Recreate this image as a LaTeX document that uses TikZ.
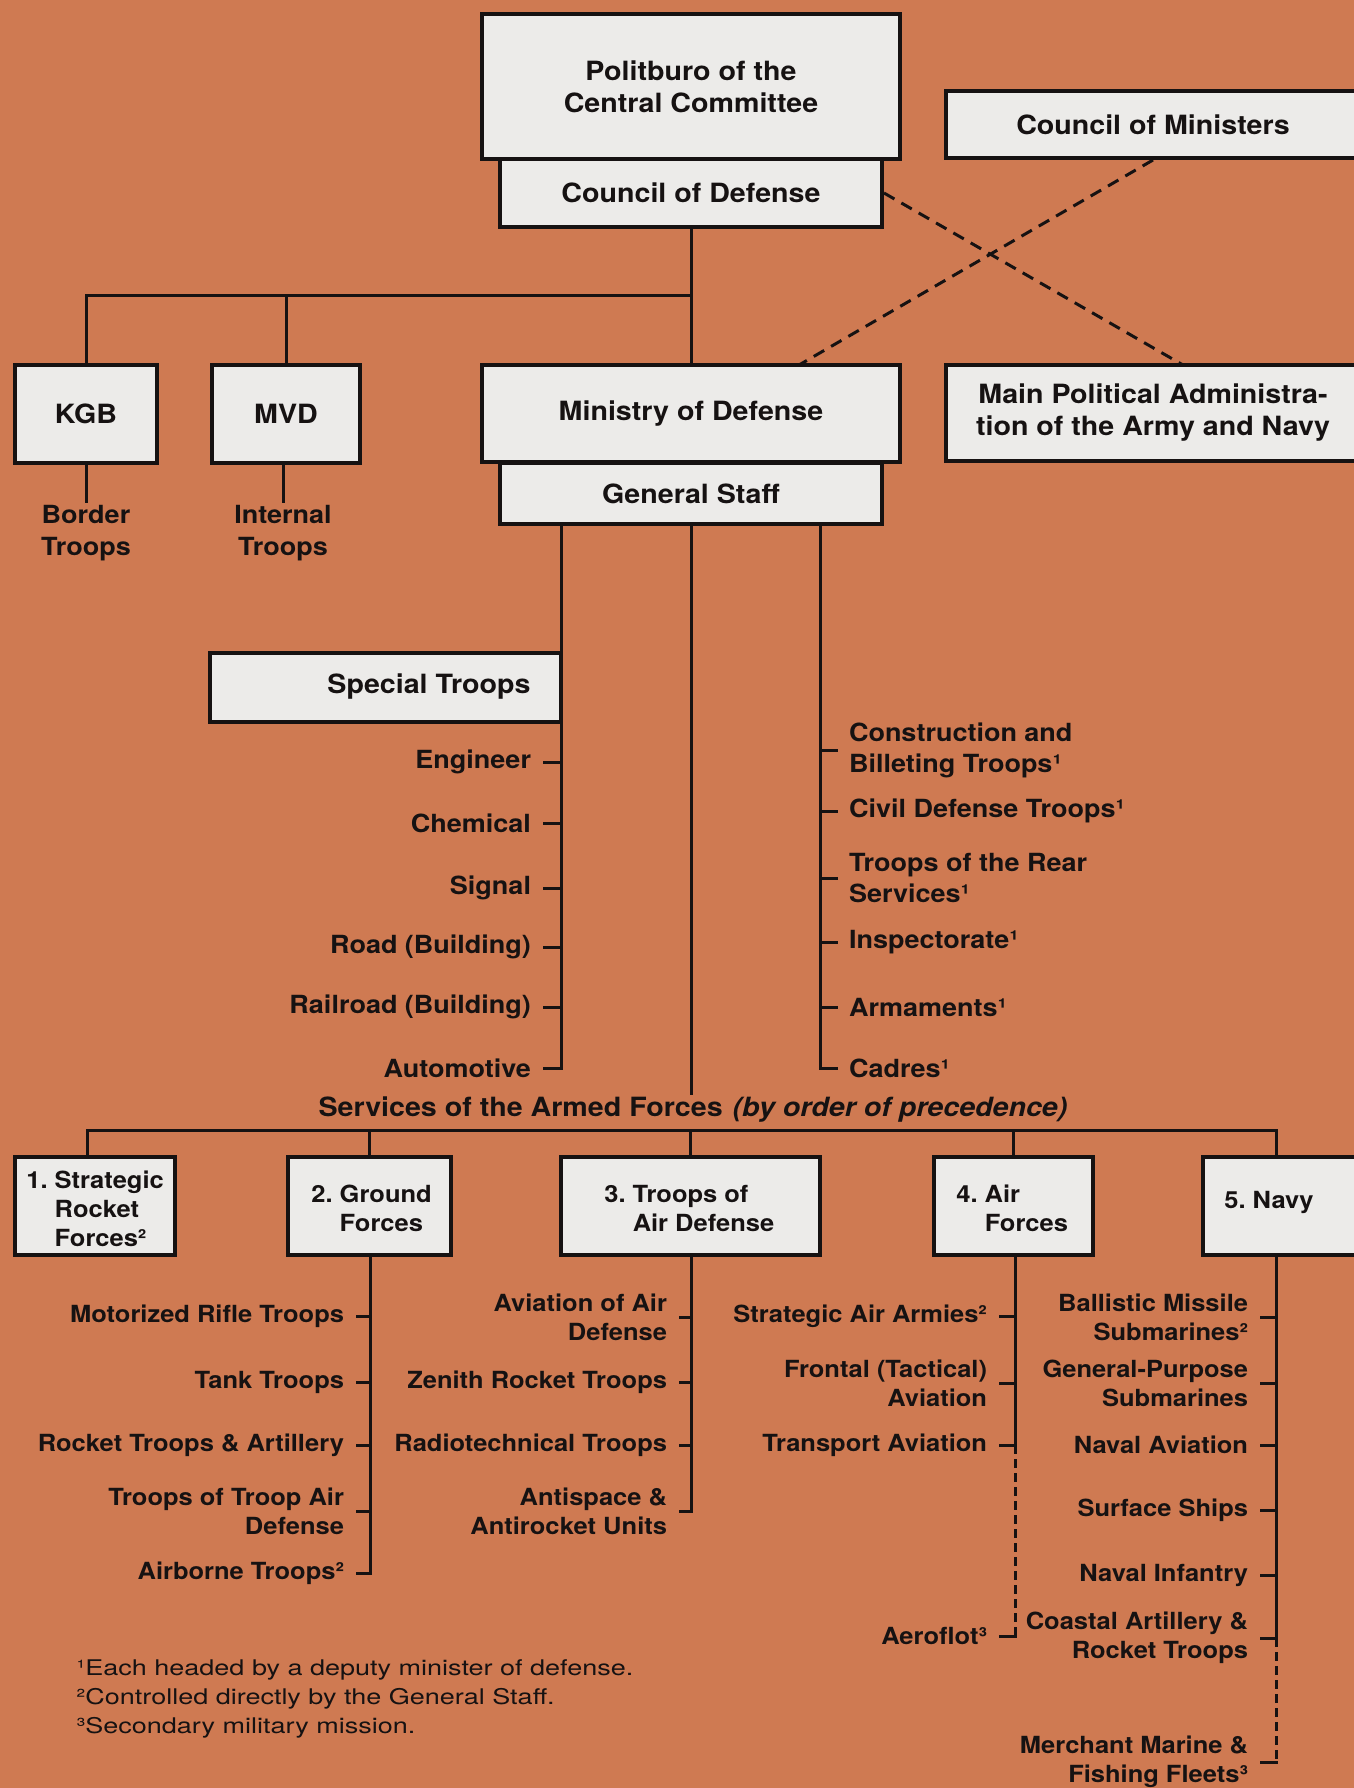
\documentclass[tikz,border=0pt]{standalone}
\usepackage{fontspec}
\setmainfont{TeX Gyre Heros}[FakeStretch=1.08]
\newfontfamily\footfont{TeX Gyre Heros}[FakeStretch=1.25]
\definecolor{bg}{RGB}{207,122,82}
\definecolor{boxfill}{RGB}{236,235,233}
\definecolor{ink}{RGB}{22,18,18}
\newcommand\tk[6]{%
  \coordinate (t#2) at (#3,#4);
  \node[#1] (#2) at (#5,#4) {#6};
  \draw[conn] (t#2) -- (#2);}
\tikzset{
  box/.style={draw=ink, line width=2pt, fill=boxfill, inner sep=0pt},
  conn/.style={draw=ink, line width=1.5pt, line cap=rect},
  dsh/.style={draw=ink, line width=1.5pt, dash pattern=on 4.5pt off 2.5pt},
  diag/.style={draw=ink, line width=1.5pt, dash pattern=on 6pt off 4pt},
  mainf/.style={font=\fontsize{13.25pt}{16pt}\selectfont\bfseries},
  upf/.style={font=\fontsize{12.5pt}{15.5pt}\selectfont\bfseries},
  lof/.style={font=\fontsize{11.8pt}{14.5pt}\selectfont\bfseries},
  footf/.style={font=\footfont\fontsize{10.8pt}{14.5pt}\selectfont},
  labL/.style={anchor=east, align=right, inner sep=0pt, outer xsep=6.5pt, outer ysep=0pt},
  labR/.style={anchor=west, align=left, inner sep=0pt, outer xsep=6.5pt, outer ysep=0pt},
  txt/.style={inner sep=0pt}
}
\begin{document}
\begin{tikzpicture}[x=0.5pt,y=-0.5pt, every node/.append style={text=ink}]
\useasboundingbox (0,0) rectangle (1354,1788);
\fill[bg] (0,0) rectangle (1354,1788);
\clip (0,0) rectangle (1354,1788);

% ---------- top level ----------
\node[box, mainf, align=center, minimum width=209pt, minimum height=72.5pt] (pol) at (691,86.5) {Politburo of the\\Central Committee};
\node[box, mainf, minimum width=191pt, minimum height=34pt] (cod) at (691,193) {Council of Defense};
\node[box, mainf, minimum width=207pt, minimum height=33.5pt] (com) at (1153,124.5) {Council of Ministers};

\node[box, mainf, minimum width=71pt, minimum height=49pt] (kgb) at (86,414) {KGB};
\node[box, mainf, minimum width=74pt, minimum height=49pt] (mvd) at (286,414) {MVD};
\node[box, mainf, minimum width=209pt, minimum height=48.5pt] (mod) at (691,413.5) {Ministry of Defense};
\node[box, mainf, minimum width=191pt, minimum height=30.5pt] (gs) at (691,493.5) {General Staff};
\node[box, mainf, align=center, minimum width=207pt, minimum height=48pt] (mpa) at (1153,413) {Main Political Administra-\\tion of the Army and Navy};

\node[txt, upf, align=center, font=\fontsize{12.5pt}{16pt}\selectfont\bfseries, outer ysep=2pt] (bord) at (86,533) {Border\\Troops};
\node[txt, upf, align=center, font=\fontsize{12.5pt}{16pt}\selectfont\bfseries, outer ysep=2pt] (intt) at (283,533) {Internal\\Troops};

% connectors top
\coordinate (jn) at (691,295);
\draw[conn] (cod.south) -- (mod.north);
\draw[conn] (jn) -| (kgb.north);
\draw[conn] (mvd.north |- jn) -- (mvd.north);
\draw[conn] (kgb.south) -- (bord.north);
\draw[conn] (mvd.south -| intt.north) -- (intt.north);
\coordinate (mpain) at (1183,365);
\coordinate (modin) at (799,365);
\draw[diag] (cod.east) -- (mpain);
\draw[diag] (com.south) -- (modin);

% ---------- special troops (left list) ----------
\tk{labL,upf}{eng}{561}{762}{544}{Engineer}
\tk{labL,upf}{chem}{561}{823}{544}{Chemical}
\tk{labL,upf}{sig}{561}{888}{544}{Signal}
\tk{labL,upf}{road}{561}{947}{544}{Road (Building)}
\tk{labL,upf}{rail}{561}{1007}{544}{Railroad (Building)}
\tk{labL,upf}{auto}{561}{1068}{544}{Automotive}
\draw[conn] (gs.south -| tauto) -- (tauto);
\node[box, minimum width=175.5pt, minimum height=34.5pt] (spbox) at (385.5,687.5) {};
\node[txt, mainf, anchor=east] (spt) at (531,687) {Special Troops};

% ---------- right list ----------
\tk{labR,upf}{cons}{820}{750}{836}{Construction and\\Billeting Troops¹}
\tk{labR,upf}{civ}{820}{811}{836}{Civil Defense Troops¹}
\tk{labR,upf}{rear}{820}{878}{836}{Troops of the Rear\\Services¹}
\tk{labR,upf}{insp}{820}{942}{836}{Inspectorate¹}
\tk{labR,upf}{arm}{820}{1007}{836}{Armaments¹}
\tk{labR,upf}{cad}{820}{1068}{836}{Cadres¹}
\draw[conn] (gs.south -| tcad) -- (tcad);

% ---------- center / services ----------
\coordinate (cend) at (691,1093);
\draw[conn] (gs.south) -- (cend);
\node[txt, mainf] (serv) at (693,1110) {Services of the Armed Forces\hspace{5pt}\textit{(by order of precedence)}};

\node[box, minimum width=80pt, minimum height=49pt] (b1) at (95,1206) {};
\node[box, minimum width=81.5pt, minimum height=49pt] (b2) at (369.5,1206) {};
\node[box, minimum width=129.5pt, minimum height=49pt] (b3) at (690.5,1206) {};
\node[box, minimum width=79.5pt, minimum height=49pt] (b4) at (1013.5,1206) {};
\node[box, minimum width=88.5pt, minimum height=49pt] (b5) at (1291.5,1206) {};

\node[txt, lof, anchor=west, align=left] (b1t) at (26,1209) {1.\ Strategic\\\hphantom{1.\ }Rocket\\\hphantom{1.\ }Forces²};
\node[txt, lof, anchor=west, align=left] (b2t) at (311,1208) {2.\ Ground\\\hphantom{2.\ }Forces};
\node[txt, lof, anchor=west, align=left] (b3t) at (604,1208) {3.\ Troops of\\\hphantom{3.\ }Air Defense};
\node[txt, lof, anchor=west, align=left] (b4t) at (956,1208) {4.\ Air\\\hphantom{4.\ }Forces};
\node[txt, lof, anchor=west, align=left] (b5t) at (1224,1202) {5.\ Navy};

\coordinate (busL) at (87,1130);
\coordinate (busR) at (1276,1130);
\draw[conn] (busL) -- (busR);
\draw[conn] (busL) -- (busL |- b1.north);
\draw[conn] (b2.north |- busL) -- (b2.north);
\draw[conn] (b3.north |- busL) -- (b3.north);
\draw[conn] (b4.north |- busL) -- (b4.north);
\draw[conn] (busR) -- (busR |- b5.north);

% ---------- ground forces ----------
\tk{labL,lof}{mr}{370}{1316}{357}{Motorized Rifle Troops}
\tk{labL,lof}{tank}{370}{1382}{357}{Tank Troops}
\tk{labL,lof}{rta}{370}{1445}{357}{Rocket Troops \& Artillery}
\tk{labL,lof}{ttad}{370}{1511}{357}{Troops of Troop Air\\Defense}
\tk{labL,lof}{abn}{370}{1573}{357}{Airborne Troops²}
\draw[conn] (tabn |- b2.south) -- (tabn);

% ---------- air defense ----------
\tk{labL,lof}{aad}{691}{1317}{680}{Aviation of Air\\Defense}
\tk{labL,lof}{zen}{691}{1382}{680}{Zenith Rocket Troops}
\tk{labL,lof}{rad}{691}{1445}{680}{Radiotechnical Troops}
\tk{labL,lof}{anti}{691}{1511}{680}{Antispace \&\\Antirocket Units}
\draw[conn] (tanti |- b3.south) -- (tanti);

% ---------- air forces ----------
\tk{labL,lof}{saa}{1015}{1316}{1000}{Strategic Air Armies²}
\tk{labL,lof}{fta}{1015}{1383}{1000}{Frontal (Tactical)\\Aviation}
\tk{labL,lof}{tra}{1015}{1445}{1000}{Transport Aviation}
\tk{labL,lof}{aer}{1015}{1636}{1000}{Aeroflot³}
\draw[conn] (ttra |- b4.south) -- (ttra);
\draw[dsh] (ttra) -- (taer);

% ---------- navy ----------
\tk{labL,lof}{bms}{1276}{1317}{1261}{Ballistic Missile\\Submarines²}
\tk{labL,lof}{gps}{1276}{1383}{1261}{General-Purpose\\Submarines}
\tk{labL,lof}{nav}{1276}{1445}{1261}{Naval Aviation}
\tk{labL,lof}{ss}{1276}{1510}{1261}{Surface Ships}
\tk{labL,lof}{ni}{1276}{1575}{1261}{Naval Infantry}
\tk{labL,lof}{cart}{1276}{1638}{1261}{Coastal Artillery \&\\Rocket Troops}
\tk{labL,lof}{mm}{1276}{1762}{1261}{Merchant Marine \&\\Fishing Fleets³}
\draw[conn] (tcart |- b5.south) -- (tcart);
\draw[dsh] (tcart) -- (tmm);

% ---------- footnotes ----------
\node[txt, footf, anchor=west, align=left] (fn) at (76,1699) {¹Each headed by a deputy minister of defense.\\²Controlled directly by the General Staff.\\³Secondary military mission.};
\end{tikzpicture}
\end{document}
